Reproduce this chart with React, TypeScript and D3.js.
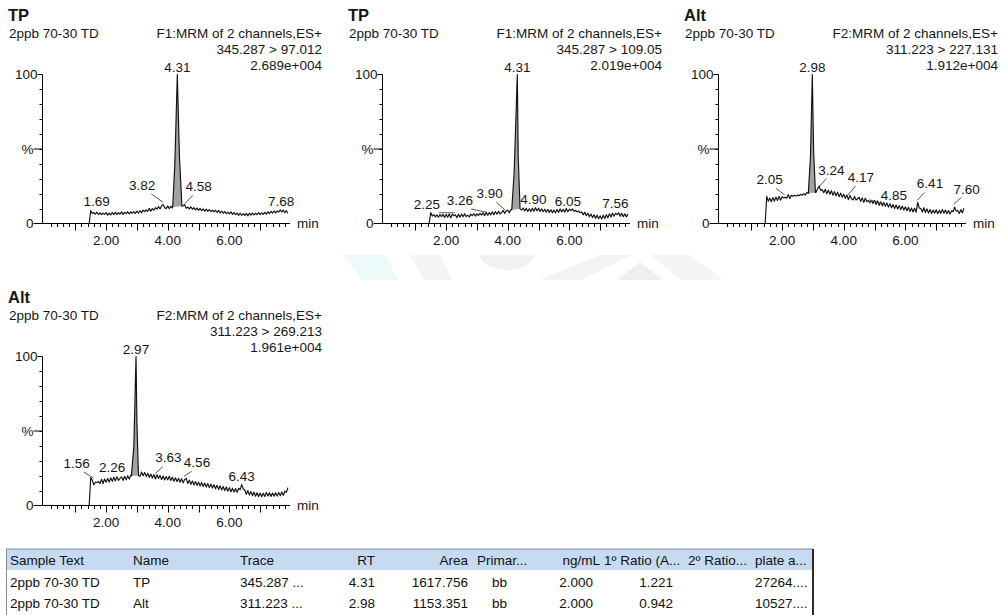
import React from 'react'
import * as d3 from 'd3'

// traces are sampled every 0.05 min starting at 1.45 min (first sample = 0 before the acquisition starts)
const sampleStart = 1.45
const sampleStep = 0.05

// TP  345.287 > 97.012
const tp97Values = [
  0,
  8.6, 6.8, 7.4, 6.2, 7.6, 6.0, 7.2, 5.9, 7.0, 6.1,
  7.3, 5.6, 6.9, 5.8, 7.4, 6.0, 7.6, 5.9, 7.3, 6.2,
  7.8, 6.1, 7.5, 6.6, 7.9, 6.4, 7.8, 6.9, 8.0, 6.8,
  8.4, 6.9, 8.6, 7.2, 9.0, 8.0, 9.2, 8.1, 10.2, 8.3,
  10.0, 9.0, 10.6, 9.6, 11.4, 9.8, 11.8, 12.6, 10.6, 10.0,
  11.8, 10.0, 11.6, 10.4, 11.6, 11.0, 11.0, 11.0, 11.0, 11.0,
  12.0, 12.6, 10.2, 11.0, 9.8, 11.2, 9.6, 10.6, 9.2, 10.4,
  8.8, 10.2, 8.6, 9.8, 8.2, 9.6, 8.1, 9.4, 7.9, 9.0,
  7.8, 8.9, 7.4, 8.8, 7.0, 8.4, 6.9, 8.0, 6.6, 7.6,
  6.5, 7.8, 6.1, 7.3, 5.9, 7.0, 5.5, 6.9, 5.4, 6.6,
  5.4, 6.8, 5.1, 6.9, 5.6, 7.0, 5.7, 6.9, 6.0, 7.3,
  5.9, 7.1, 6.1, 7.5, 6.3, 7.8, 6.7, 8.1, 6.9, 8.4,
  7.2, 8.5, 7.6, 9.2, 7.8, 9.0, 7.2, 8.6, 6.9,
]
const tp97Peak = [[4.16, 11.0], [4.23, 40], [4.31, 100], [4.38, 45], [4.46, 11.6]]
const tp97Labels = [1.69, 3.82, 4.31, 4.58, 7.68]

// TP  345.287 > 109.05
const tp109Values = [
  0,
  7.4, 5.0, 6.0, 4.4, 5.9, 4.2, 6.0, 4.6, 6.2, 4.0,
  6.1, 4.2, 6.4, 3.9, 6.3, 5.2, 5.8, 3.8, 6.2, 4.2,
  6.4, 4.5, 6.6, 4.6, 5.6, 4.4, 6.3, 5.2, 6.6, 5.0,
  6.4, 5.4, 6.8, 5.6, 7.2, 5.2, 7.6, 5.6, 7.4, 5.8,
  7.8, 5.8, 8.0, 6.2, 8.2, 6.4, 7.4, 8.8, 6.8, 8.4,
  9.0, 7.2, 9.4, 9.0, 9.0, 9.0, 9.0, 9.0, 9.0, 9.0,
  10.4, 8.4, 10.2, 8.0, 9.9, 8.0, 10.2, 8.2, 10.6, 8.5,
  10.2, 8.0, 9.9, 7.9, 9.6, 7.6, 9.5, 7.4, 9.2, 7.2,
  9.0, 7.1, 9.4, 7.4, 9.8, 7.8, 9.5, 7.6, 10.0, 7.9,
  9.6, 8.6, 9.8, 8.2, 8.9, 7.8, 8.4, 7.2, 7.8, 5.8,
  7.6, 5.2, 6.9, 4.6, 6.4, 4.0, 5.8, 3.6, 5.5, 3.2,
  5.1, 3.0, 5.6, 3.4, 6.0, 3.9, 6.5, 4.4, 6.9, 4.8,
  6.8, 6.0, 7.2, 4.8, 6.8, 4.6, 6.5, 4.4, 6.3,
]
const tp109Peak = [[4.13, 9.2], [4.21, 35], [4.31, 100], [4.34, 45], [4.40, 9.8]]
const tp109Labels = [2.25, 3.26, 3.9, 4.31, 4.9, 6.05, 7.56]

// Alt  311.223 > 227.131
const alt227Values = [
  0,
  18.2, 15.0, 17.0, 14.6, 17.4, 15.0, 17.8, 15.4, 18.2, 15.6,
  18.0, 17.2, 17.6, 17.0, 19.4, 16.8, 19.0, 18.2, 18.9, 18.4,
  19.2, 18.6, 19.6, 19.0, 20.0, 19.0, 20.8, 19.6, 20.6, 20.0,
  20.0, 20.0, 21.0, 23.2, 25.2, 22.2, 22.8, 20.6, 23.0, 20.0,
  22.4, 19.6, 22.0, 19.0, 21.4, 18.6, 20.9, 18.0, 20.4, 17.6,
  19.7, 16.9, 19.2, 16.0, 18.8, 16.6, 15.8, 18.2, 15.8, 16.6,
  17.6, 14.8, 17.2, 14.2, 16.9, 14.6, 15.4, 13.9, 15.6, 13.4,
  15.6, 12.8, 15.2, 12.2, 14.6, 11.8, 14.1, 11.5, 13.8, 11.0,
  13.2, 10.6, 12.8, 10.0, 12.4, 9.7, 12.0, 9.3, 11.7, 9.0,
  11.2, 8.6, 10.9, 8.0, 10.4, 7.7, 10.2, 7.6, 14.2, 10.4,
  10.0, 7.7, 10.6, 7.4, 9.8, 7.0, 9.4, 6.7, 9.0, 6.9,
  9.2, 6.5, 8.8, 6.8, 9.5, 6.9, 9.1, 6.5, 8.7, 6.3,
  8.6, 7.9, 11.0, 8.4, 8.8, 6.7, 9.3, 7.1, 10.2,
]
const alt227Peak = [[2.85, 20.2], [2.92, 45], [2.98, 100], [3.02, 50], [3.08, 20.8]]
const alt227Labels = [2.05, 2.98, 3.24, 4.17, 4.85, 6.41, 7.6]

// Alt  311.223 > 269.213
const alt269Values = [
  0,
  18.8, 17.0, 13.8, 15.6, 15.4, 16.2, 14.6, 17.6, 14.8, 17.8,
  15.6, 18.2, 15.8, 18.6, 16.2, 19.0, 16.5, 19.4, 16.8, 18.2,
  19.2, 16.8, 19.6, 17.2, 20.0, 17.7, 20.4, 19.4, 20.0, 20.0,
  20.0, 22.0, 19.6, 22.4, 20.0, 22.2, 19.4, 21.7, 18.8, 21.1,
  18.4, 20.8, 17.8, 20.6, 18.1, 20.2, 17.5, 19.8, 17.1, 19.4,
  17.2, 19.6, 16.8, 19.0, 16.3, 18.6, 16.0, 18.3, 15.6, 18.0,
  15.2, 17.4, 18.2, 14.8, 17.0, 14.2, 16.5, 13.8, 16.1, 13.5,
  15.7, 13.0, 15.4, 12.7, 15.0, 12.4, 14.7, 12.0, 14.4, 11.7,
  14.0, 11.2, 13.6, 10.8, 13.2, 10.4, 12.8, 10.0, 12.4, 9.6,
  12.0, 9.2, 11.6, 9.0, 11.4, 8.8, 11.6, 10.6, 14.0, 11.2,
  10.4, 7.6, 10.0, 7.0, 9.4, 6.6, 9.0, 6.2, 8.6, 6.0,
  8.4, 5.8, 8.2, 6.0, 8.8, 6.4, 8.6, 6.1, 8.4, 6.2,
  8.6, 6.3, 8.8, 6.5, 9.0, 6.8, 9.6, 8.8, 12.0,
]
const alt269Peak = [[2.82, 19.8], [2.90, 40], [2.97, 100], [3.00, 55], [3.05, 20.2]]
const alt269Labels = [1.56, 2.26, 2.97, 3.63, 4.56, 6.43]

const sampleName = '2ppb 70-30 TD'
const xTickLabels = [2, 4, 6]
const yTickLabels = [[100, '100'], [50, '%'], [0, '0']]

const tableColumns = ['Sample Text', 'Name', 'Trace', 'RT', 'Area', 'Primar...', 'ng/mL', '1º Ratio (A...', '2º Ratio...', 'plate a...']
const tableRows = [
  ['2ppb 70-30 TD', 'TP', '345.287 ...', '4.31', '1617.756', 'bb', '2.000', '1.221', '', '27264....'],
  ['2ppb 70-30 TD', 'Alt', '311.223 ...', '2.98', '1153.351', 'bb', '2.000', '0.942', '', '10527....'],
]

const charts = [
  { compound: 'TP', func: 'F1:MRM of 2 channels,ES+', transition: '345.287 > 97.012', intensity: '2.689e+004', values: tp97Values, peak: tp97Peak, labels: tp97Labels },
  { compound: 'TP', func: 'F1:MRM of 2 channels,ES+', transition: '345.287 > 109.05', intensity: '2.019e+004', values: tp109Values, peak: tp109Peak, labels: tp109Labels },
  { compound: 'Alt', func: 'F2:MRM of 2 channels,ES+', transition: '311.223 > 227.131', intensity: '1.912e+004', values: alt227Values, peak: alt227Peak, labels: alt227Labels },
  { compound: 'Alt', func: 'F2:MRM of 2 channels,ES+', transition: '311.223 > 269.213', intensity: '1.961e+004', values: alt269Values, peak: alt269Peak, labels: alt269Labels },
]

// layout
const origins = [[0, 0], [340, 0], [676, 0], [0, 282]]
// label offsets relative to the labelled point: dx centre, dy baseline, leader line
const labelLayout = [
  [[0, -7, false], [-20, -15.6, true], [0, -3, false], [13, -15.6, true], [0, -5, false]],
  [[-27, -7, true], [-25, -10, true], [-15, -15, true], [0, -3, false], [-2, -4, false], [-3, -5, false], [-2, -6, false]],
  [[-14, -13.5, true], [0, -3, false], [11, -15, true], [12, -16, true], [24, -3, true], [12, -15, true], [12, -13.5, true]],
  [[-16, -13, true], [-2, -6, false], [0, -3, false], [12, -14, true], [12, -12, true], [-1, -6, false]],
]
const FONT = "'Liberation Sans', Arial, Helvetica, sans-serif"
const INK = '#161616'

function buildTrace(values, peak) {
  const lo = peak[0][0]
  const hi = peak[peak.length - 1][0]
  const pts = values
    .map((v, i) => [sampleStart + i * sampleStep, v])
    .filter(([t]) => t < lo - 1e-6 || t > hi + 1e-6)
  return pts.concat(peak).sort((a, b) => a[0] - b[0])
}

function valueAt(pts, t) {
  const i = d3.bisector(d => d[0]).left(pts, t)
  if (i <= 0) return pts[0][1]
  if (i >= pts.length) return pts[pts.length - 1][1]
  const [t0, v0] = pts[i - 1]
  const [t1, v1] = pts[i]
  return v0 + ((v1 - v0) * (t - t0)) / (t1 - t0)
}

function Chromatogram({ cfg, index }) {
  const [ox, oy] = origins[index]
  const x = d3.scaleLinear().domain([0, 8]).range([44.5, 291])
  const y = d3.scaleLinear().domain([0, 100]).range([223.5, 74.5])
  const axisX = 42.5
  const pts = buildTrace(cfg.values, cfg.peak)
  const line = d3.line().x(d => x(d[0])).y(d => y(d[1]))
  const minorTicks = d3.range(1, 40).map(i => i / 5)
  const yMinor = d3.range(10, 100, 10)
  const layout = labelLayout[index]

  // axis combs as single paths
  const xTickPath = minorTicks
    .map(t => {
      const px = Math.round(x(t)) + 0.5
      const len = Math.abs(t - Math.round(t)) < 1e-6 ? 7 : 3.5
      return `M${px},${y(0)}v${len}`
    })
    .join('')
  const yTickPath =
    yMinor.map(v => `M${axisX - 3},${Math.round(y(v)) + 0.5}h3`).join('') +
    yTickLabels.map(([v]) => `M${v === 100 ? axisX - 5 : axisX - 9},${y(v)}H${axisX}`).join('')

  return (
    <g transform={`translate(${ox},${oy})`} fontFamily={FONT} fill={INK}>
      <text x={8} y={21} fontSize={16.5} fontWeight="bold">{cfg.compound}</text>
      <text x={9} y={38} fontSize={13.5}>{sampleName}</text>
      <text x={322} y={38} fontSize={13.5} textAnchor="end">{cfg.func}</text>
      <text x={322} y={54} fontSize={13.5} textAnchor="end">{cfg.transition}</text>
      <text x={322} y={70} fontSize={13.5} textAnchor="end">{cfg.intensity}</text>

      {/* peak integration fill */}
      <path d={line(cfg.peak) + 'Z'} fill="#a3a3a3" stroke="none" />
      <path d={line(pts)} fill="none" stroke="#111" strokeWidth={1.15} strokeLinejoin="round" />

      {/* axes */}
      <path
        d={`M${axisX},${y(100)}V${y(0)}H290` + xTickPath + yTickPath}
        fill="none"
        stroke="#000"
        strokeWidth={1}
      />
      {yTickLabels.map(([v, s]) => (
        <text key={s} x={v === 100 ? axisX - 5 : axisX - 9} y={y(v) + 4.5} fontSize={13.5} textAnchor="end">{s}</text>
      ))}
      {xTickLabels.map(t => (
        <text key={t} x={x(t)} y={245} fontSize={13.5} textAnchor="middle">{t.toFixed(2)}</text>
      ))}
      <text x={297} y={228} fontSize={13.5}>min</text>

      {/* peak labels */}
      {cfg.labels.map((rt, i) => {
        const [dx, dy, lead] = layout[i]
        const px = x(rt)
        const py = y(valueAt(pts, rt))
        return (
          <g key={rt}>
            {lead && (
              <line x1={px + dx * 0.55} y1={py + dy + 4} x2={px - Math.sign(dx)} y2={py - 3} stroke="#444" strokeWidth={0.9} />
            )}
            <text x={px + dx} y={py + dy} fontSize={13.5} textAnchor="middle">{rt.toFixed(2)}</text>
          </g>
        )
      })}
    </g>
  )
}

// column anchors: [x, anchor]
const colAnchors = [[10, 'start'], [133, 'start'], [240, 'start'], [375, 'end'], [468, 'end'], [477, 'start'], [600, 'end'], [604, 'start'], [688, 'start'], [755, 'start']]
const rowAnchors = [[10, 'start'], [133, 'start'], [240, 'start'], [375, 'end'], [468, 'end'], [492, 'start'], [593, 'end'], [673, 'end'], [688, 'start'], [755, 'start']]

function ResultTable() {
  return (
    <g fontFamily={FONT} fontSize={13.5} fill="#111">
      <rect x={6} y={549} width={807} height={21} fill="#c6dbf1" />
      <line x1={6} x2={813} y1={549} y2={549} stroke="#8a8a8a" />
      <line x1={6.5} x2={6.5} y1={549} y2={615} stroke="#8a8a8a" />
      <line x1={813} x2={813} y1={549} y2={615} stroke="#2a2a2a" strokeWidth={2} />
      {tableColumns.map((c, i) => (
        <text key={c} x={colAnchors[i][0]} y={565} textAnchor={colAnchors[i][1]}>{c}</text>
      ))}
      {tableRows.map((row, r) => (
        <g key={r}>
          {row.map((cell, i) => (
            <text key={i} x={rowAnchors[i][0]} y={586.5 + r * 21} textAnchor={rowAnchors[i][1]}>{cell}</text>
          ))}
        </g>
      ))}
    </g>
  )
}

function Watermark() {
  return (
    <g>
      <polygon points="343,255 385,255 398,280 362,280" fill="#edfafa" />
      <polygon points="410,255 440,255 452,280 424,280" fill="#f5f5f5" />
      <path d="M480,255 L534,255 A27,15 0 0 1 480,255 Z" fill="#f1f1f1" />
      <polygon points="540,280 600,255 632,255 582,280" fill="#f3f3f3" />
      <polygon points="617,280 640,262 663,280" fill="#efefef" />
      <polygon points="650,255 690,255 723,280 682,280" fill="#f5f5f5" />
    </g>
  )
}

export default function App() {
  return (
    <svg
      width={1001}
      height={615}
      style={{ position: 'absolute', left: 0, top: 0, background: '#fff' }}
    >
      <rect width={1001} height={615} fill="#fff" />
      <Watermark />
      {charts.map((c, i) => (
        <Chromatogram key={i} cfg={c} index={i} />
      ))}
      <ResultTable />
    </svg>
  )
}
